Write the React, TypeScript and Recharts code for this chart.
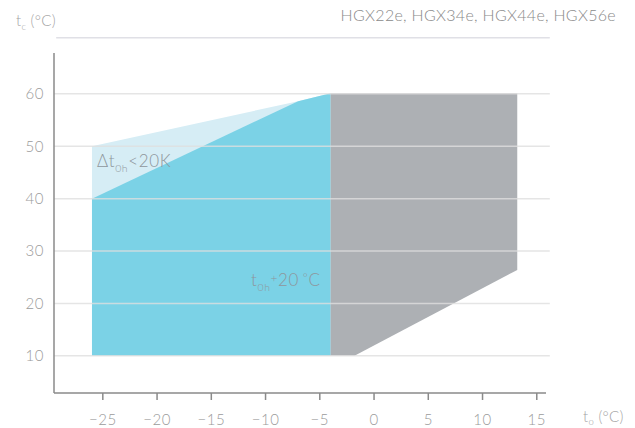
import React from "react";
import {
  AreaChart,
  Area,
  XAxis,
  YAxis,
  ReferenceLine,
} from "recharts";

// envelope corners, t0 (°C) -> [tc low, tc high]
const lightBlue = [
  { x: -26, v: [10, 50] },
  { x: -7, v: [10, 58.6] },
  { x: -4, v: [10, 60.1] },
];

const darkBlue = [
  { x: -26, v: [10, 40] },
  { x: -7, v: [10, 58.6] },
  { x: -4, v: [10, 60.1] },
];

const grey = [
  { x: -4, v: [10, 60.1] },
  { x: -1.8, v: [10, 60.1] },
  { x: 13.2, v: [26.4, 60.1] },
];

const xTicks = [-25, -20, -15, -10, -5, 0, 5, 10, 15];
const yTicks = [10, 20, 30, 40, 50, 60];
const gridRows = [10, 20, 30, 40, 50, 60];

const FONT = "Lato, 'Open Sans', sans-serif";
const TICK = { fill: "#9b9b9b", fontSize: 15, fontFamily: FONT, fontWeight: 300, letterSpacing: 0.5 };
const NOTE = "#8e969c";

export default function App() {
  return (
    <div style={{ position: "absolute", left: 0, top: 0, width: 635, height: 428 }}>
      <AreaChart
        width={635}
        height={428}
        margin={{ top: 53, right: 89, bottom: 0, left: 0 }}
      >
        <XAxis
          type="number"
          dataKey="x"
          domain={[-29.5, 15.85]}
          ticks={xTicks}
          allowDataOverflow
          height={35}
          tick={TICK}
          tickSize={7}
          tickMargin={14}
          tickFormatter={(v) => (v < 0 ? `\u2212${-v}` : `${v}`)}
          axisLine={{ stroke: "#8a8a8a", strokeWidth: 1.5 }}
          tickLine={{ stroke: "#8a8a8a", strokeWidth: 1.5 }}
        />
        <YAxis
          type="number"
          domain={[2.9, 67.8]}
          ticks={yTicks}
          allowDataOverflow
          width={54}
          tick={TICK}
          tickSize={0}
          tickMargin={10}
          tickLine={false}
          axisLine={{ stroke: "#8a8a8a", strokeWidth: 1.5 }}
        />
        <Area
          data={lightBlue}
          dataKey="v"
          type="linear"
          fill="#d6edf5"
          fillOpacity={1}
          stroke="none"
          isAnimationActive={false}
        />
        <Area
          data={darkBlue}
          dataKey="v"
          type="linear"
          fill="#7bd2e6"
          fillOpacity={1}
          stroke="none"
          isAnimationActive={false}
        />
        <Area
          data={grey}
          dataKey="v"
          type="linear"
          fill="#adb0b4"
          fillOpacity={1}
          stroke="none"
          isAnimationActive={false}
        />
        {gridRows.map((r) => (
          <ReferenceLine
            key={r}
            segment={[
              { x: -29.5, y: r },
              { x: 16.2, y: r },
            ]}
            ifOverflow="visible"
            stroke="rgba(222,222,222,0.8)"
            strokeWidth={1.5}
          />
        ))}
        <ReferenceLine
          segment={[
            { x: -29.3, y: 70.7 },
            { x: 16.2, y: 70.7 },
          ]}
          ifOverflow="visible"
          stroke="#e0e0e6"
          strokeWidth={1.5}
        />
      </AreaChart>
      <svg
        width={635}
        height={428}
        style={{ position: "absolute", left: 0, top: 0, pointerEvents: "none" }}
        fontFamily={FONT}
        fontWeight={300}
      >
        <text x={616} y={21} textAnchor="end" fontSize={16} fill="#8a8a8a" letterSpacing={0.3}>
          HGX22e, HGX34e, HGX44e, HGX56e
        </text>
        <text x={16} y={26} fontSize={15} fill="#a3a3a3" letterSpacing={0.3}>
          t<tspan fontSize={9.5} dy={4}>c</tspan>
          <tspan dy={-4}> (°C)</tspan>
        </text>
        <text x={583} y={422} fontSize={15} fill="#a3a3a3" letterSpacing={0.3}>
          t<tspan fontSize={9.5} dy={3}>o</tspan>
          <tspan dy={-3}> (°C)</tspan>
        </text>
        <text x={97} y={167} fontSize={17} fill={NOTE} letterSpacing={0.6}>
          Δt<tspan fontSize={10.5} dy={5}>0h</tspan>
          <tspan dy={-5}>&lt;20K</tspan>
        </text>
        <text x={251} y={286} fontSize={17} fill={NOTE} letterSpacing={0.6}>
          t<tspan fontSize={10.5} dy={5}>0h</tspan>
          <tspan dy={-9} fontSize={12}>+</tspan>
          <tspan dy={4}>20</tspan>
          <tspan dy={-4} fontSize={12}> °</tspan>
          <tspan dy={4}>C</tspan>
        </text>
      </svg>
    </div>
  );
}
